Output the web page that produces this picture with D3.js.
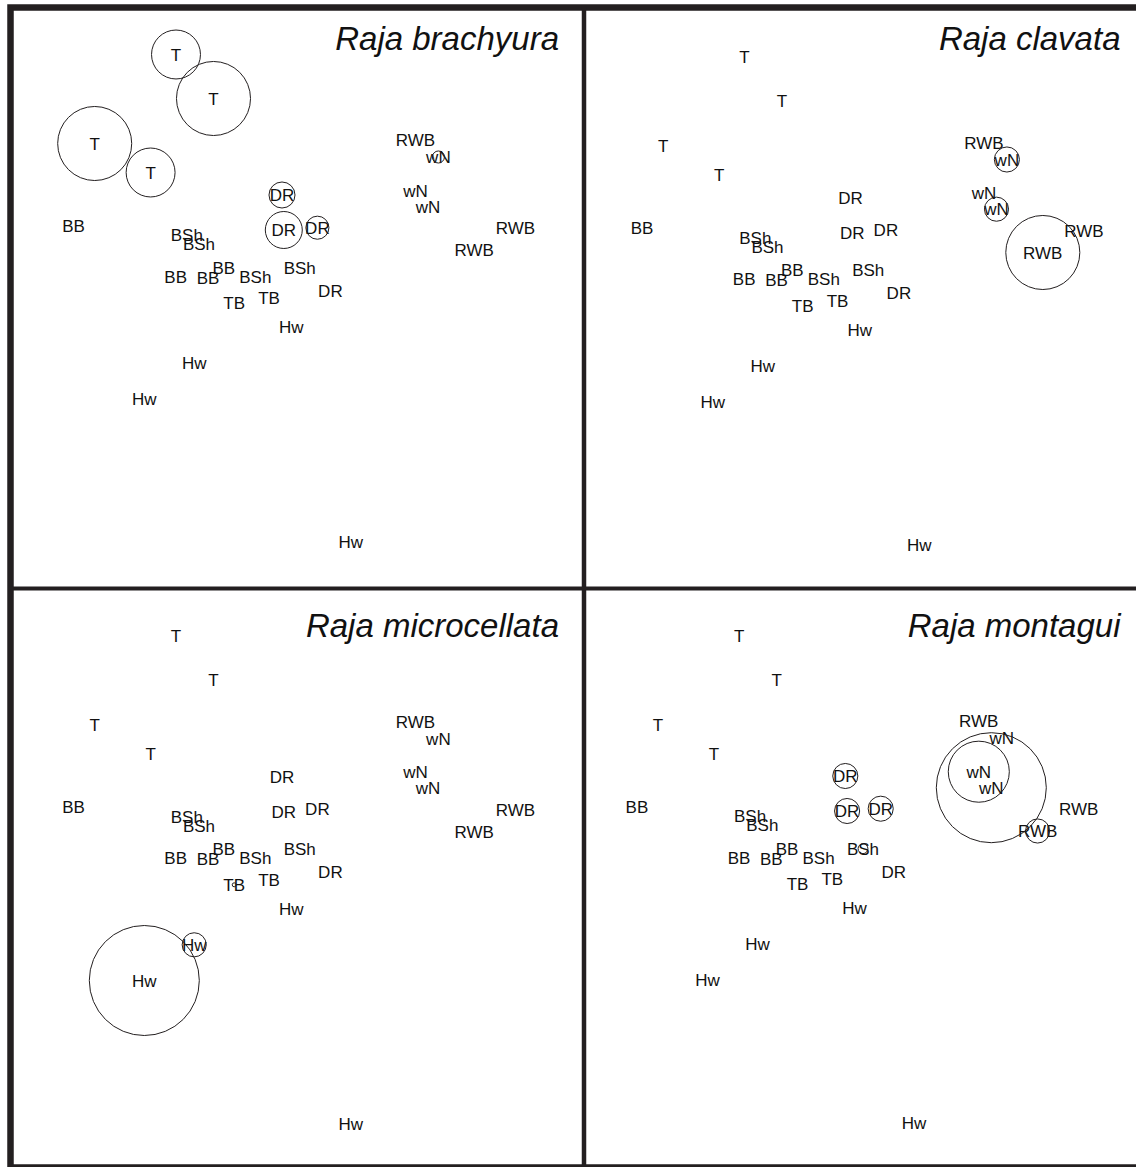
<!DOCTYPE html>
<html>
<head>
<meta charset="utf-8">
<script src="https://cdn.jsdelivr.net/npm/d3@7"></script>
<style>
  html, body { margin: 0; padding: 0; background: #fff; }
  svg { display: block; }
  .site { font-family: "Liberation Sans", Arial, sans-serif; font-size: 17px; fill: #111; }
  .title { font-family: "Liberation Sans", Arial, sans-serif; font-size: 33px; font-style: italic; fill: #111; }
</style>
</head>
<body>
<script>
// ordination of the 28 sites (shared by all four panels)
const siteLabels = ["T", "T", "T", "T",
  "BB", "BSh", "BSh", "BB", "BB", "BB", "BSh", "BSh",
  "TB", "TB", "DR", "DR", "DR", "DR",
  "Hw", "Hw", "Hw", "Hw",
  "RWB", "wN", "wN", "wN", "RWB", "RWB"];

const nmds1 = [-1.205, -0.830, -2.018, -1.459,
  -2.229, -1.097, -0.975, -1.208, -0.885, -0.727, -0.412, 0.032,
  -0.623, -0.275, -0.145, -0.127, 0.209, 0.339,
  -0.053, -1.023, -1.522, 0.542,
  1.190, 1.419, 1.190, 1.315, 2.189, 1.778];

const nmds2 = [2.435, 1.995, 1.545, 1.255,
  0.723, 0.630, 0.537, 0.213, 0.203, 0.303, 0.213, 0.303,
  -0.053, -0.003, 1.030, 0.680, 0.703, 0.073,
  -0.293, -0.653, -1.010, -2.440,
  1.580, 1.410, 1.073, 0.913, 0.697, 0.480];

// abundance of each species at each site (0 = no circle)
const brachyura = [19.8, 45.3, 45.3, 19.8,
  0, 0, 0, 0, 0, 0, 0, 0,
  0, 0, 5.6, 11.3, 4.4, 0,
  0, 0, 0, 0,
  0, 1.2, 0, 0, 0, 0];

const clavata = [0, 0, 0, 0,
  0, 0, 0, 0, 0, 0, 0, 0,
  0, 0, 0, 0, 0, 0,
  0, 0, 0, 0,
  0, 5.2, 0, 4.8, 0, 45.3];

const microcellata = [0, 0, 0, 0,
  0, 0, 0, 0, 0, 0, 0, 0,
  0.13, 0, 0, 0, 0, 0,
  0, 4.8, 100, 0,
  0, 0, 0, 0, 0, 0];

const montagui = [0, 0, 0, 0,
  0, 0, 0, 0, 0, 0, 0, 0.8,
  0, 0, 5.2, 5.2, 5.2, 0,
  0, 0, 0, 0,
  0, 0, 30.8, 100, 0, 4.8];

const speciesNames = ["Raja brachyura", "Raja clavata", "Raja microcellata", "Raja montagui"];
const speciesAbund = [brachyura, clavata, microcellata, montagui];

// panel placement
const panels = [
  {ox: 0,     oy: 0,     tx: 559,    ty: 49.5},
  {ox: 568.5, oy: 2.5,   tx: 1120.5, ty: 49.5},
  {ox: 0,     oy: 581.5, tx: 559,    ty: 636.5},
  {ox: 563.3, oy: 581,   tx: 1120.5, ty: 636.5}
];

const width = 1136, height = 1167;
const ink = "#231f20";

const svg = d3.select("body").append("svg")
  .attr("width", width)
  .attr("height", height);

const rScale = d3.scaleSqrt().domain([0, 100]).range([0, 55]);

const sites = siteLabels.map((s, i) => ({label: s, x: nmds1[i], y: nmds2[i]}));

panels.forEach((p, k) => {
  let x = d3.scaleLinear().domain([-2.865, 2.87]).range([10 + p.ox, 583.5 + p.ox]);
  let y = d3.scaleLinear().domain([2.905, -2.905]).range([7.5 + p.oy, 588.5 + p.oy]);
  let abund = speciesAbund[k];

  let g = svg.append("g").attr("class", "panel");

  g.selectAll("text.site")
    .data(sites)
    .enter()
    .append("text")
    .attr("class", "site")
    .attr("x", d => x(d.x))
    .attr("y", d => y(d.y))
    .attr("dy", "0.36em")
    .attr("text-anchor", "middle")
    .text(d => d.label);

  g.selectAll("circle")
    .data(sites.map((d, i) => ({...d, v: abund[i]})).filter(d => d.v > 0))
    .enter()
    .append("circle")
    .attr("cx", d => x(d.x))
    .attr("cy", d => y(d.y))
    .attr("r", d => rScale(d.v))
    .attr("fill", "none")
    .attr("stroke", ink)
    .attr("stroke-width", 1);

  g.append("text")
    .attr("class", "title")
    .attr("x", p.tx)
    .attr("y", p.ty)
    .attr("text-anchor", "end")
    .text(speciesNames[k]);
});

// frame: outer box and the cross between panels
const frame = svg.append("g").attr("stroke", ink).attr("fill", "none");
frame.append("rect")
  .attr("x", 10.5).attr("y", 7.5)
  .attr("width", 1148).attr("height", 1160)
  .attr("stroke-width", 6.5);
frame.append("line")
  .attr("x1", 584).attr("x2", 584).attr("y1", 7).attr("y2", 1167)
  .attr("stroke-width", 4.5);
frame.append("line")
  .attr("x1", 10).attr("x2", 1160).attr("y1", 588.5).attr("y2", 588.5)
  .attr("stroke-width", 4);
</script>
</body>
</html>
